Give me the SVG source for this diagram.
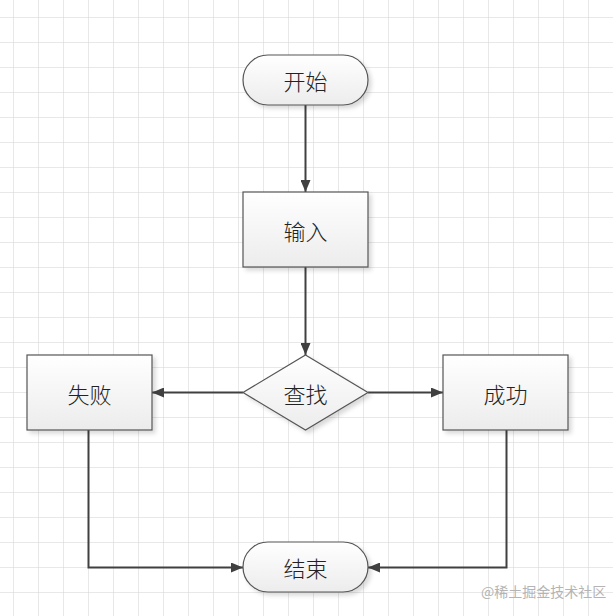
<svg xmlns="http://www.w3.org/2000/svg" width="613" height="616" viewBox="0 0 613 616">
  <defs>
    <pattern id="grid" x="13" y="17" width="25" height="25" patternUnits="userSpaceOnUse">
      <path d="M0 0 H25 M0 0 V25" fill="none" stroke="#d2d2d2" stroke-width="1"/>
    </pattern>
    <linearGradient id="fillg" x1="0" y1="0" x2="0" y2="1">
      <stop offset="0" stop-color="#ffffff"/>
      <stop offset="1" stop-color="#ececec"/>
    </linearGradient>
    <filter id="shadow" x="-20%" y="-20%" width="140%" height="140%">
      <feDropShadow dx="3" dy="3" stdDeviation="2" flood-color="#000" flood-opacity="0.15"/>
    </filter>
    <marker id="arrow" viewBox="0 0 12 10" refX="12" refY="5" markerWidth="12" markerHeight="10" markerUnits="userSpaceOnUse" orient="auto">
      <path d="M0 0 L12 5 L0 10 Z" fill="#404040"/>
    </marker>
    <style>
      .shape { fill: url(#fillg); stroke: #555555; stroke-width: 1.2; filter: url(#shadow); }
      .label { font-family: "Noto Sans CJK SC", "Noto Sans", sans-serif; font-size: 22px; font-weight: 300; fill: #222222; text-anchor: middle; dominant-baseline: central; }
      .conn { fill: none; stroke: #404040; stroke-width: 2; marker-end: url(#arrow); }
      .wm { font-family: "Noto Sans CJK SC", "Noto Sans", sans-serif; font-size: 14px; fill: #b4b4b4; }
    </style>
  </defs>
  <rect x="0" y="0" width="613" height="616" fill="#ffffff"/>
  <rect x="0" y="0" width="613" height="616" fill="url(#grid)"/>

  <g id="connectors">
    <path class="conn" d="M305.5 105 V192"/>
    <path class="conn" d="M305.5 267 V355"/>
    <path class="conn" d="M243 392.5 H152"/>
    <path class="conn" d="M368 392.5 H443"/>
    <path class="conn" d="M88.5 430 V567.5 H243"/>
    <path class="conn" d="M506.5 430 V567.5 H368"/>
  </g>

  <g id="start">
    <rect class="shape" x="243" y="55" width="125" height="50" rx="25" ry="25"/>
    <text class="label" x="305.5" y="80">开始</text>
  </g>
  <g id="input">
    <rect class="shape" x="243" y="192" width="125" height="75"/>
    <text class="label" x="305.5" y="229.5">输入</text>
  </g>
  <g id="search">
    <polygon class="shape" points="305.5,355 368,392.5 305.5,430 243,392.5"/>
    <text class="label" x="305.5" y="392.5">查找</text>
  </g>
  <g id="fail">
    <rect class="shape" x="27" y="355" width="125" height="75"/>
    <text class="label" x="89.5" y="392.5">失败</text>
  </g>
  <g id="success">
    <rect class="shape" x="443" y="355" width="125" height="75"/>
    <text class="label" x="505.5" y="392.5">成功</text>
  </g>
  <g id="end">
    <rect class="shape" x="243" y="542" width="125" height="50" rx="25" ry="25"/>
    <text class="label" x="305.5" y="567">结束</text>
  </g>

  <text class="wm" x="481" y="597">@稀土掘金技术社区</text>
</svg>
